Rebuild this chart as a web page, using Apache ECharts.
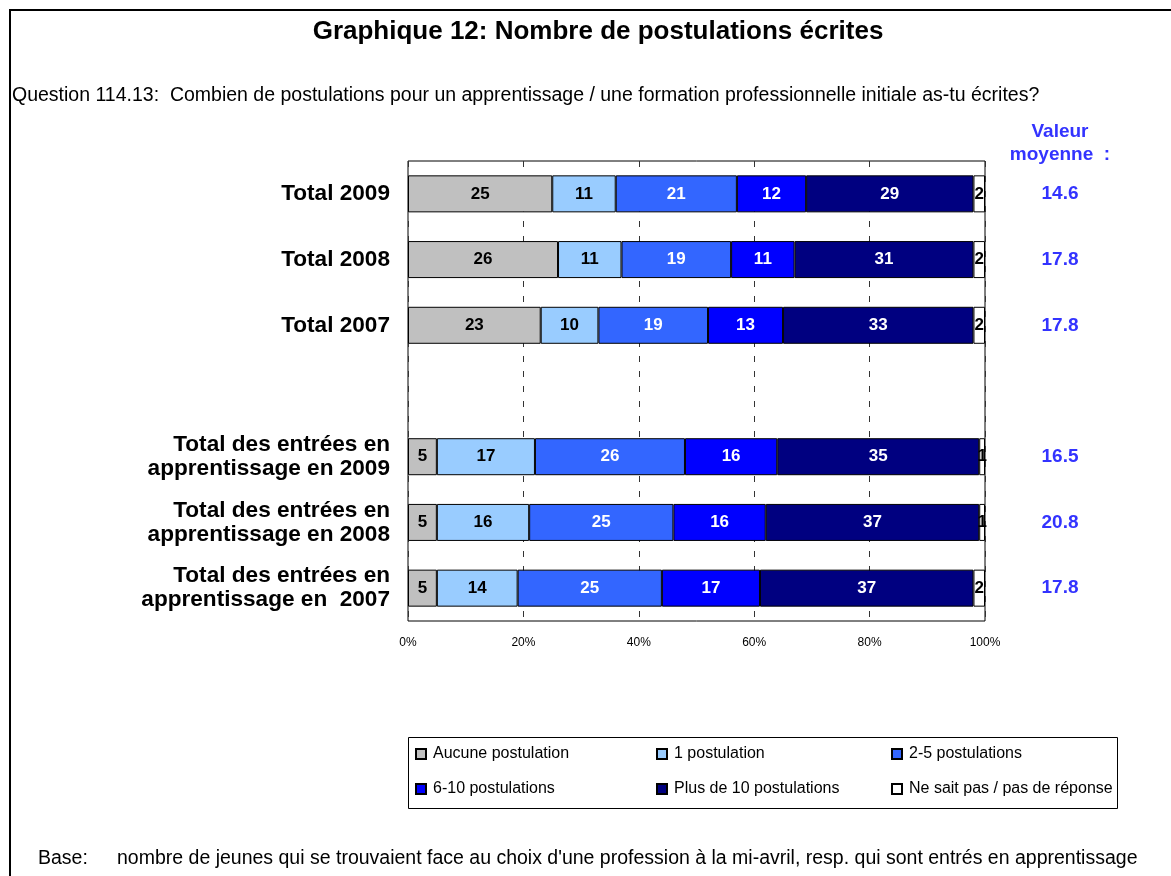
<!DOCTYPE html>
<html><head><meta charset="utf-8">
<script src="https://cdn.jsdelivr.net/npm/echarts@6/dist/echarts.min.js"></script>
<style>html,body{margin:0;padding:0;background:#fff}#c{width:1171px;height:876px}</style>
</head><body><div id="c"></div>
<script>
// ---- data ----
const categories = ['Total 2009', 'Total 2008', 'Total 2007', '',
  'Total des entrées en\napprentissage en 2009',
  'Total des entrées en\napprentissage en 2008',
  'Total des entrées en\napprentissage en  2007'];
const seriesNames = ['Aucune postulation', '1 postulation', '2-5 postulations',
  '6-10 postulations', 'Plus de 10 postulations', 'Ne sait pas / pas de réponse'];
const aucune   = [25, 26, 23, null, 5, 5, 5];
const une      = [11, 11, 10, null, 17, 16, 14];
const deuxCinq = [21, 19, 19, null, 26, 25, 25];
const sixDix   = [12, 11, 13, null, 16, 16, 17];
const plusDix  = [29, 31, 33, null, 35, 37, 37];
const nsp      = [2, 2, 2, null, 1, 1, 2];
const means    = ['14.6', '17.8', '17.8', '', '16.5', '20.8', '17.8'];
const xTicks   = [0, 20, 40, 60, 80, 100];

const titleText = 'Graphique 12: Nombre de postulations écrites';
const questionText = 'Question 114.13:  Combien de postulations pour un apprentissage / une formation professionnelle initiale as-tu écrites?';
const meanHeader = 'Valeur\nmoyenne  :';
const baseLabel = 'Base:';
const baseText = "nombre de jeunes qui se trouvaient face au choix d'une profession à la mi-avril, resp. qui sont entrés en apprentissage";

// ---- styles ----
const FONT = "'Liberation Sans', Arial, sans-serif";
const colors = ['#C0C0C0', '#99CCFF', '#3366FF', '#0000FF', '#000080', '#FFFFFF'];
const labelColors = ['#000', '#000', '#fff', '#fff', '#fff', '#000'];
const seriesData = [aucune, une, deuxCinq, sixDix, plusDix, nsp];
const legendPos = [[415, 746], [656, 746], [891, 746], [415, 781], [656, 781], [891, 781]];

const chart = echarts.init(document.getElementById('c'), null, {renderer: 'canvas'});
chart.setOption({
  animation: false,
  backgroundColor: '#fff',
  textStyle: {fontFamily: FONT},
  grid: {left: 408, right: 186, top: 161, bottom: 255, show: true, borderColor: '#000', borderWidth: 1, outerBoundsMode: 'none'},
  xAxis: {
    type: 'value', min: 0, max: 100, interval: 20,
    axisLine: {show: false}, axisTick: {show: false},
    splitLine: {show: true, lineStyle: {color: '#333', width: 1, type: [6, 9]}},
    axisLabel: {formatter: v => xTicks.includes(v) ? v + '%' : '', fontSize: 12, color: '#000', margin: 16, fontFamily: FONT}
  },
  yAxis: [{
    type: 'category', data: categories, inverse: true,
    axisLine: {show: false}, axisTick: {show: false},
    axisLabel: {fontSize: 22.6, fontWeight: 'bold', color: '#000', margin: 18, lineHeight: 24, align: 'right', fontFamily: FONT, interval: 0}
  }, {
    type: 'category', data: means, inverse: true, position: 'right',
    axisLine: {show: false}, axisTick: {show: false},
    axisLabel: {fontSize: 19, fontWeight: 'bold', color: '#3333FF', margin: 75, align: 'center', fontFamily: FONT, interval: 0}
  }],
  legend: seriesNames.map((n, i) => ({
    data: [n], left: legendPos[i][0], top: legendPos[i][1], padding: 0,
    icon: 'rect', itemWidth: 10, itemHeight: 10, itemGap: 0,
    textStyle: {fontSize: 16, color: '#000', fontFamily: FONT, padding: [0, 0, 0, 2]},
    selectedMode: false
  })),
  series: seriesNames.map((n, i) => ({
    name: n, type: 'bar', stack: 'total', data: seriesData[i], barWidth: 37,
    itemStyle: {color: colors[i], borderColor: '#000', borderWidth: 1},
    label: {show: true, position: 'inside', fontSize: 17, fontWeight: 'bold', color: labelColors[i], fontFamily: FONT},
    emphasis: {disabled: true}
  })),
  graphic: [
    {type: 'rect', shape: {x: 10, y: 10, width: 1400, height: 1000}, style: {fill: 'none', stroke: '#000', lineWidth: 2}, silent: true},
    {type: 'rect', shape: {x: 408.5, y: 737.5, width: 709, height: 71}, style: {fill: 'none', stroke: '#000', lineWidth: 1}, silent: true, z: -1},
    {type: 'text', x: 598, y: 32, style: {text: titleText, textAlign: 'center', textVerticalAlign: 'middle', fontSize: 26, fontWeight: 'bold', fontFamily: FONT, fill: '#000'}},
    {type: 'text', x: 12, y: 96, style: {text: questionText, textAlign: 'left', textVerticalAlign: 'middle', fontSize: 19.5, fontFamily: FONT, fill: '#000'}},
    {type: 'text', x: 1060, y: 143, style: {text: meanHeader, textAlign: 'center', textVerticalAlign: 'middle', fontSize: 19, fontWeight: 'bold', lineHeight: 23, fontFamily: FONT, fill: '#3333FF'}},
    {type: 'text', x: 38, y: 859, style: {text: baseLabel, textAlign: 'left', textVerticalAlign: 'middle', fontSize: 19.5, fontFamily: FONT, fill: '#000'}},
    {type: 'text', x: 117, y: 859, style: {text: baseText, textAlign: 'left', textVerticalAlign: 'middle', fontSize: 19.5, fontFamily: FONT, fill: '#000'}}
  ]
});
</script></body></html>
